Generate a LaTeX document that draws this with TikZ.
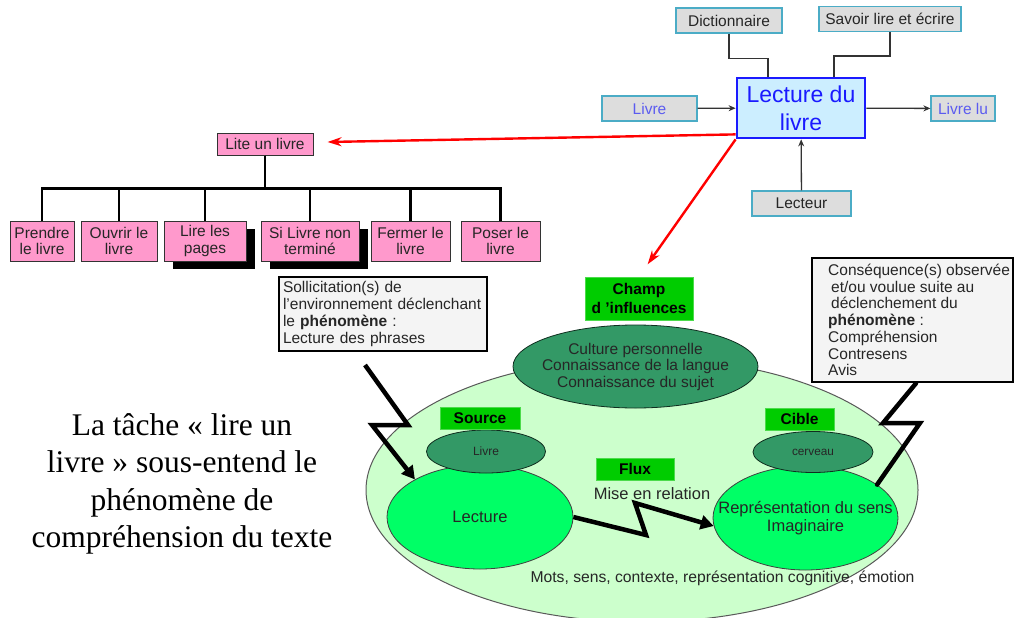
\documentclass[tikz,border=0pt]{standalone}
\usepackage{fontspec}
\setmainfont{Liberation Sans}
\newfontfamily\timesfont{Liberation Serif}
\usetikzlibrary{positioning,shapes.geometric,arrows.meta,shadows}

\definecolor{boxgray}{HTML}{DDDDDD}
\definecolor{boxcyan}{HTML}{4BACC6}
\definecolor{txtblue}{HTML}{5B5BF0}
\definecolor{mainfill}{HTML}{CCEEFF}
\definecolor{mainblue}{HTML}{1A1AFF}
\definecolor{pinkfill}{HTML}{FF99CC}
\definecolor{labgreen}{HTML}{00CC00}
\definecolor{darkgreen}{HTML}{339966}
\definecolor{palegreen}{HTML}{CCFFCC}
\definecolor{brightgreen}{HTML}{00FF66}
\definecolor{notegray}{HTML}{F4F4F4}

\newcommand{\boxfont}{\fontsize{15.5}{16.7}\selectfont}
\newcommand{\ellfont}{\fontsize{16.5}{18}\selectfont}

\tikzset{
  graybox/.style={draw=boxcyan, line width=1.2pt, fill=boxgray, text=black!85,
    font=\boxfont, minimum height=25pt, inner sep=0pt},
  pinkbox/.style={draw=black!80, line width=1pt, fill=pinkfill, text=black!85,
    font=\boxfont, align=center, minimum height=40pt, inner sep=0pt},
  shadowed/.style={drop shadow={shadow xshift=8.5pt, shadow yshift=-8pt,
    opacity=1, fill=black}},
  notebox/.style={draw=black, line width=2.6pt, fill=notegray, text=black!85,
    font=\boxfont, align=left, inner ysep=0pt},
  greenlabel/.style={fill=labgreen, draw=labgreen!70!white, line width=0.8pt,
    font=\boxfont\bfseries, inner sep=0pt, minimum height=22pt},
  darkell/.style={ellipse, draw=black!70!darkgreen, line width=0.8pt,
    fill=darkgreen, inner sep=0pt},
  brightell/.style={ellipse, draw=black!75, line width=0.8pt,
    fill=brightgreen, inner sep=0pt},
  tree/.style={line width=2.8pt},
  bolt/.style={line width=4.5pt, line join=miter},
  redarrow/.style={red, line width=2.4pt, -{Stealth[length=14pt,width=9pt]}},
  smallarrow/.style={black!80, line width=1.3pt, -{Stealth[length=7pt,width=6pt]}},
  link/.style={black!80, line width=1.3pt}
}

\begin{document}
\begin{tikzpicture}[x=1pt, y=-1pt]
  \useasboundingbox (0,0) rectangle (1014,618);

  % processus de lecture
  \node[draw=mainblue, line width=2.8pt, fill=mainfill, text=mainblue, align=center,
    font=\fontsize{23}{28}\selectfont, minimum width=128pt, minimum height=60pt,
    inner sep=0pt] (lecture) at (801,108) {Lecture du\\livre};
  \node[graybox, minimum width=106pt] (dict) at (729,20.5) {Dictionnaire};
  \node[graybox, minimum width=142pt] (savoir) at (890,19) {Savoir lire et écrire};
  \node[graybox, minimum width=95pt, text=txtblue] (livrein) at (649.5,108.5) {Livre};
  \node[graybox, minimum width=64pt, text=txtblue] (livrelu) at (963,108.5) {Livre lu};
  \node[graybox, minimum width=99pt] (lecteur) at (801.5,203.5) {Lecteur};

  \draw[link] (dict.south) -- ++(0,25) -| ([xshift=-33pt]lecture.north);
  \draw[link] (savoir.south) -- ++(0,24) -| ([xshift=33pt]lecture.north);
  \draw[smallarrow] (livrein) -- (lecture);
  \draw[smallarrow] (lecture) -- (livrelu);
  \draw[smallarrow] (lecteur) -- (lecture);

  % arbre des taches
  \node[pinkbox, minimum width=96pt, minimum height=22pt] (lite) at (265,144) {Lite un livre};
  \node[pinkbox, minimum width=64pt] (prendre) at (42,241) {Prendre\\le livre};
  \node[pinkbox, minimum width=76pt, right=6pt of prendre] (ouvrir) {Ouvrir le\\livre};
  \node[pinkbox, minimum width=82pt, right=6pt of ouvrir, shadowed] (pages) {Lire les\\pages};
  \node[pinkbox, minimum width=98pt, right=14pt of pages, shadowed] (sinon) {Si Livre non\\terminé};
  \node[pinkbox, minimum width=79pt, right=11pt of sinon] (fermer) {Fermer le\\livre};
  \node[pinkbox, minimum width=79pt, right=10pt of fermer] (poser) {Poser le\\livre};

  \foreach \child in {prendre,ouvrir,pages,sinon,fermer,poser}
    \draw[tree] (lite.south) -- ++(0,33) -| (\child.north);

  \draw[redarrow] ([yshift=5pt]lecture.south west) -- ([xshift=14pt,yshift=2pt]lite.east);

  % phenomene
  \node[ellipse, draw=black!65, line width=1pt, fill=palegreen,
    minimum width=552pt, minimum height=264pt, inner sep=0pt] (big) at (642,490) {};
  \node[darkell, minimum width=245pt, minimum height=83pt] (culture) at (635.5,366.5) {};
  \node[align=center, font=\fontsize{15.5}{16.5}\selectfont, text=black!85] at (culture)
    {Culture personnelle\\Connaissance de la langue\\Connaissance du sujet};
  \node[greenlabel, minimum width=108pt, minimum height=43pt, align=center,
    font=\fontsize{15.5}{19}\selectfont\bfseries] (champ) at (639,298.5) {Champ\\d 'influences};

  \draw[redarrow, shorten >=15pt] (lecture.south west) -- (champ.north);

  \node[brightell, minimum width=186pt, minimum height=104pt] (lect) at (480,517) {};
  \node[font=\ellfont, text=black!85] at (lect) {Lecture};
  \node[darkell, minimum width=119pt, minimum height=43pt, font=\fontsize{12}{14}\selectfont,
    text=black!85] (livreell) at (486,451.5) {Livre};
  \node[greenlabel, minimum width=80pt] (source) at (480,418.5) {Source};

  \node[brightell, minimum width=185pt, minimum height=104pt] (rep) at (805.5,518) {};
  \node[align=center, font=\ellfont, text=black!85] at (rep)
    {Représentation du sens\\Imaginaire};
  \node[darkell, minimum width=120pt, minimum height=41pt, font=\fontsize{11.8}{14}\selectfont,
    text=black!85] (cerveau) at (813,452) {cerveau};
  \node[greenlabel, minimum width=69pt] (cible) at (799.5,419) {Cible};

  \node[greenlabel, minimum width=78pt] (flux) at (635,469) {Flux};
  \node[font=\ellfont, text=black!85] (relation) at (652,494) {Mise en relation};
  \node[font=\fontsize{15.7}{17}\selectfont, text=black!85] (mots) at (722.5,578)
    {Mots, sens, contexte, représentation cognitive, émotion};

  % encadres
  \node[notebox, text width=200pt, inner xsep=4pt, minimum height=74pt] (solli) at (383,314)
    {Sollicitation(s) de\\l'environnement déclenchant\\le \textbf{phénomène} :\\Lecture des phrases};
  \node[notebox, minimum width=201pt, minimum height=124pt] (conseq) at (912.5,320) {};
  \node[anchor=west, align=left, font=\boxfont, text=black!85, inner sep=0pt] at (828,320)
    {Conséquence(s) observée\\\hspace*{3pt}et/ou voulue suite au\\\hspace*{3pt}déclenchement du\\
     \textbf{phénomène} :\\Compréhension\\Contresens\\Avis};

  % eclairs
  \coordinate (b1s) at (365,365);
  \coordinate (b1a) at (408,425);
  \coordinate (b1b) at (372,425);
  \draw[bolt, -{Triangle[length=13pt,width=14pt]}] (b1s) -- (b1a) -- (b1b) -- (lect.150);

  \coordinate (b2a) at (883,423);
  \coordinate (b2b) at (920,423);
  \draw[bolt, line cap=round] ([xshift=3.5pt]conseq.south) -- (b2a) -- (b2b) -- (rep.25);

  \coordinate (b3a) at (646,535);
  \coordinate (b3b) at (635,503);
  \draw[bolt, -{Triangle[length=13pt,width=14pt]}] (lect.east) -- (b3a) -- (b3b) -- (rep.185);

  % texte
  \node[align=center, font=\timesfont\fontsize{31.5}{37.5}\selectfont] (tache) at (182,484)
    {La tâche « lire un\\livre » sous-entend le\\phénomène de\\compréhension du texte};
\end{tikzpicture}
\end{document}
